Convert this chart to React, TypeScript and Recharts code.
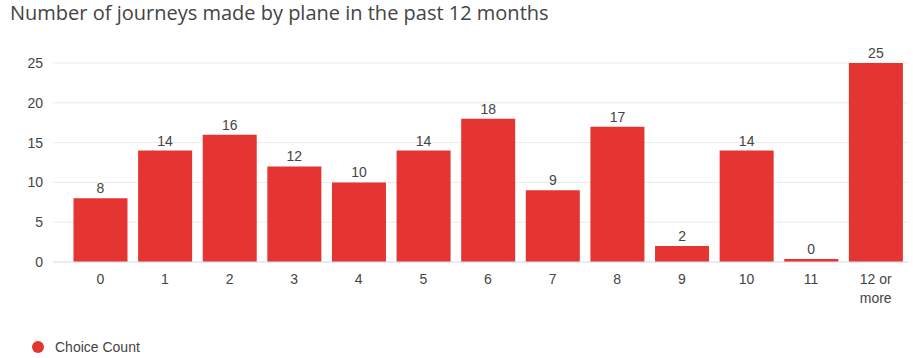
import { BarChart, Bar, XAxis, YAxis, CartesianGrid, LabelList } from 'recharts';

const categories = ['0', '1', '2', '3', '4', '5', '6', '7', '8', '9', '10', '11', '12 or more'];
const choiceCounts = [8, 14, 16, 12, 10, 14, 18, 9, 17, 2, 14, 0, 25];
const yTicks = [0, 5, 10, 15, 20, 25];

const BAR_COLOR = '#e43532';
const TEXT_COLOR = '#444';
const FONT = '"Liberation Sans", Arial, sans-serif';

const data = categories.map((name, i) => ({ name, value: choiceCounts[i] }));

function CategoryTick(props: any) {
  const { x, y, payload } = props;
  const words = String(payload.value).split(' ');
  const lines = words.length > 2 ? [words.slice(0, 2).join(' '), words.slice(2).join(' ')] : [words.join(' ')];
  return (
    <text x={x} y={y} textAnchor="middle" fill={TEXT_COLOR} fontSize={14} fontFamily={FONT}>
      {lines.map((line, i) => (
        <tspan key={i} x={x} dy={i === 0 ? 14 : 19}>
          {line}
        </tspan>
      ))}
    </text>
  );
}

export default function App() {
  return (
    <div
      style={{
        position: 'absolute',
        left: 0,
        top: 0,
        width: 913,
        height: 358,
        background: '#fff',
        fontFamily: FONT,
      }}
    >
      <div
        style={{
          position: 'absolute',
          left: 10,
          top: -1,
          fontSize: 20,
          color: '#444',
          fontFamily: '"Open Sans", sans-serif',
        }}
      >
        Number of journeys made by plane in the past 12 months
      </div>
      <BarChart
        width={913}
        height={330}
        data={data}
        margin={{ top: 63, right: 5, left: 0, bottom: 0 }}
        barCategoryGap={5.5}
      >
        <CartesianGrid vertical={false} stroke="#ebebeb" />
        <YAxis
          width={53}
          domain={[0, 25]}
          ticks={yTicks}
          axisLine={false}
          tickLine={false}
          tickMargin={4}
          tick={{ fill: TEXT_COLOR, fontSize: 14, fontFamily: FONT }}
        />
        <XAxis
          dataKey="name"
          height={68}
          padding={{ left: 15, right: 0 }}
          axisLine={{ stroke: '#dbe3ec' }}
          tickLine={false}
          interval={0}
          tick={<CategoryTick />}
        />
        <Bar dataKey="value" fill={BAR_COLOR} minPointSize={3} isAnimationActive={false}>
          <LabelList
            dataKey="value"
            position="top"
            offset={5}
            fill={TEXT_COLOR}
            fontSize={14}
            fontFamily={FONT}
          />
        </Bar>
      </BarChart>
      <div
        style={{
          position: 'absolute',
          left: 32,
          top: 339,
          display: 'flex',
          alignItems: 'center',
          fontSize: 14,
          color: TEXT_COLOR,
        }}
      >
        <span
          style={{
            display: 'inline-block',
            width: 12,
            height: 12,
            borderRadius: 6,
            background: BAR_COLOR,
            marginRight: 11,
          }}
        />
        Choice Count
      </div>
    </div>
  );
}
